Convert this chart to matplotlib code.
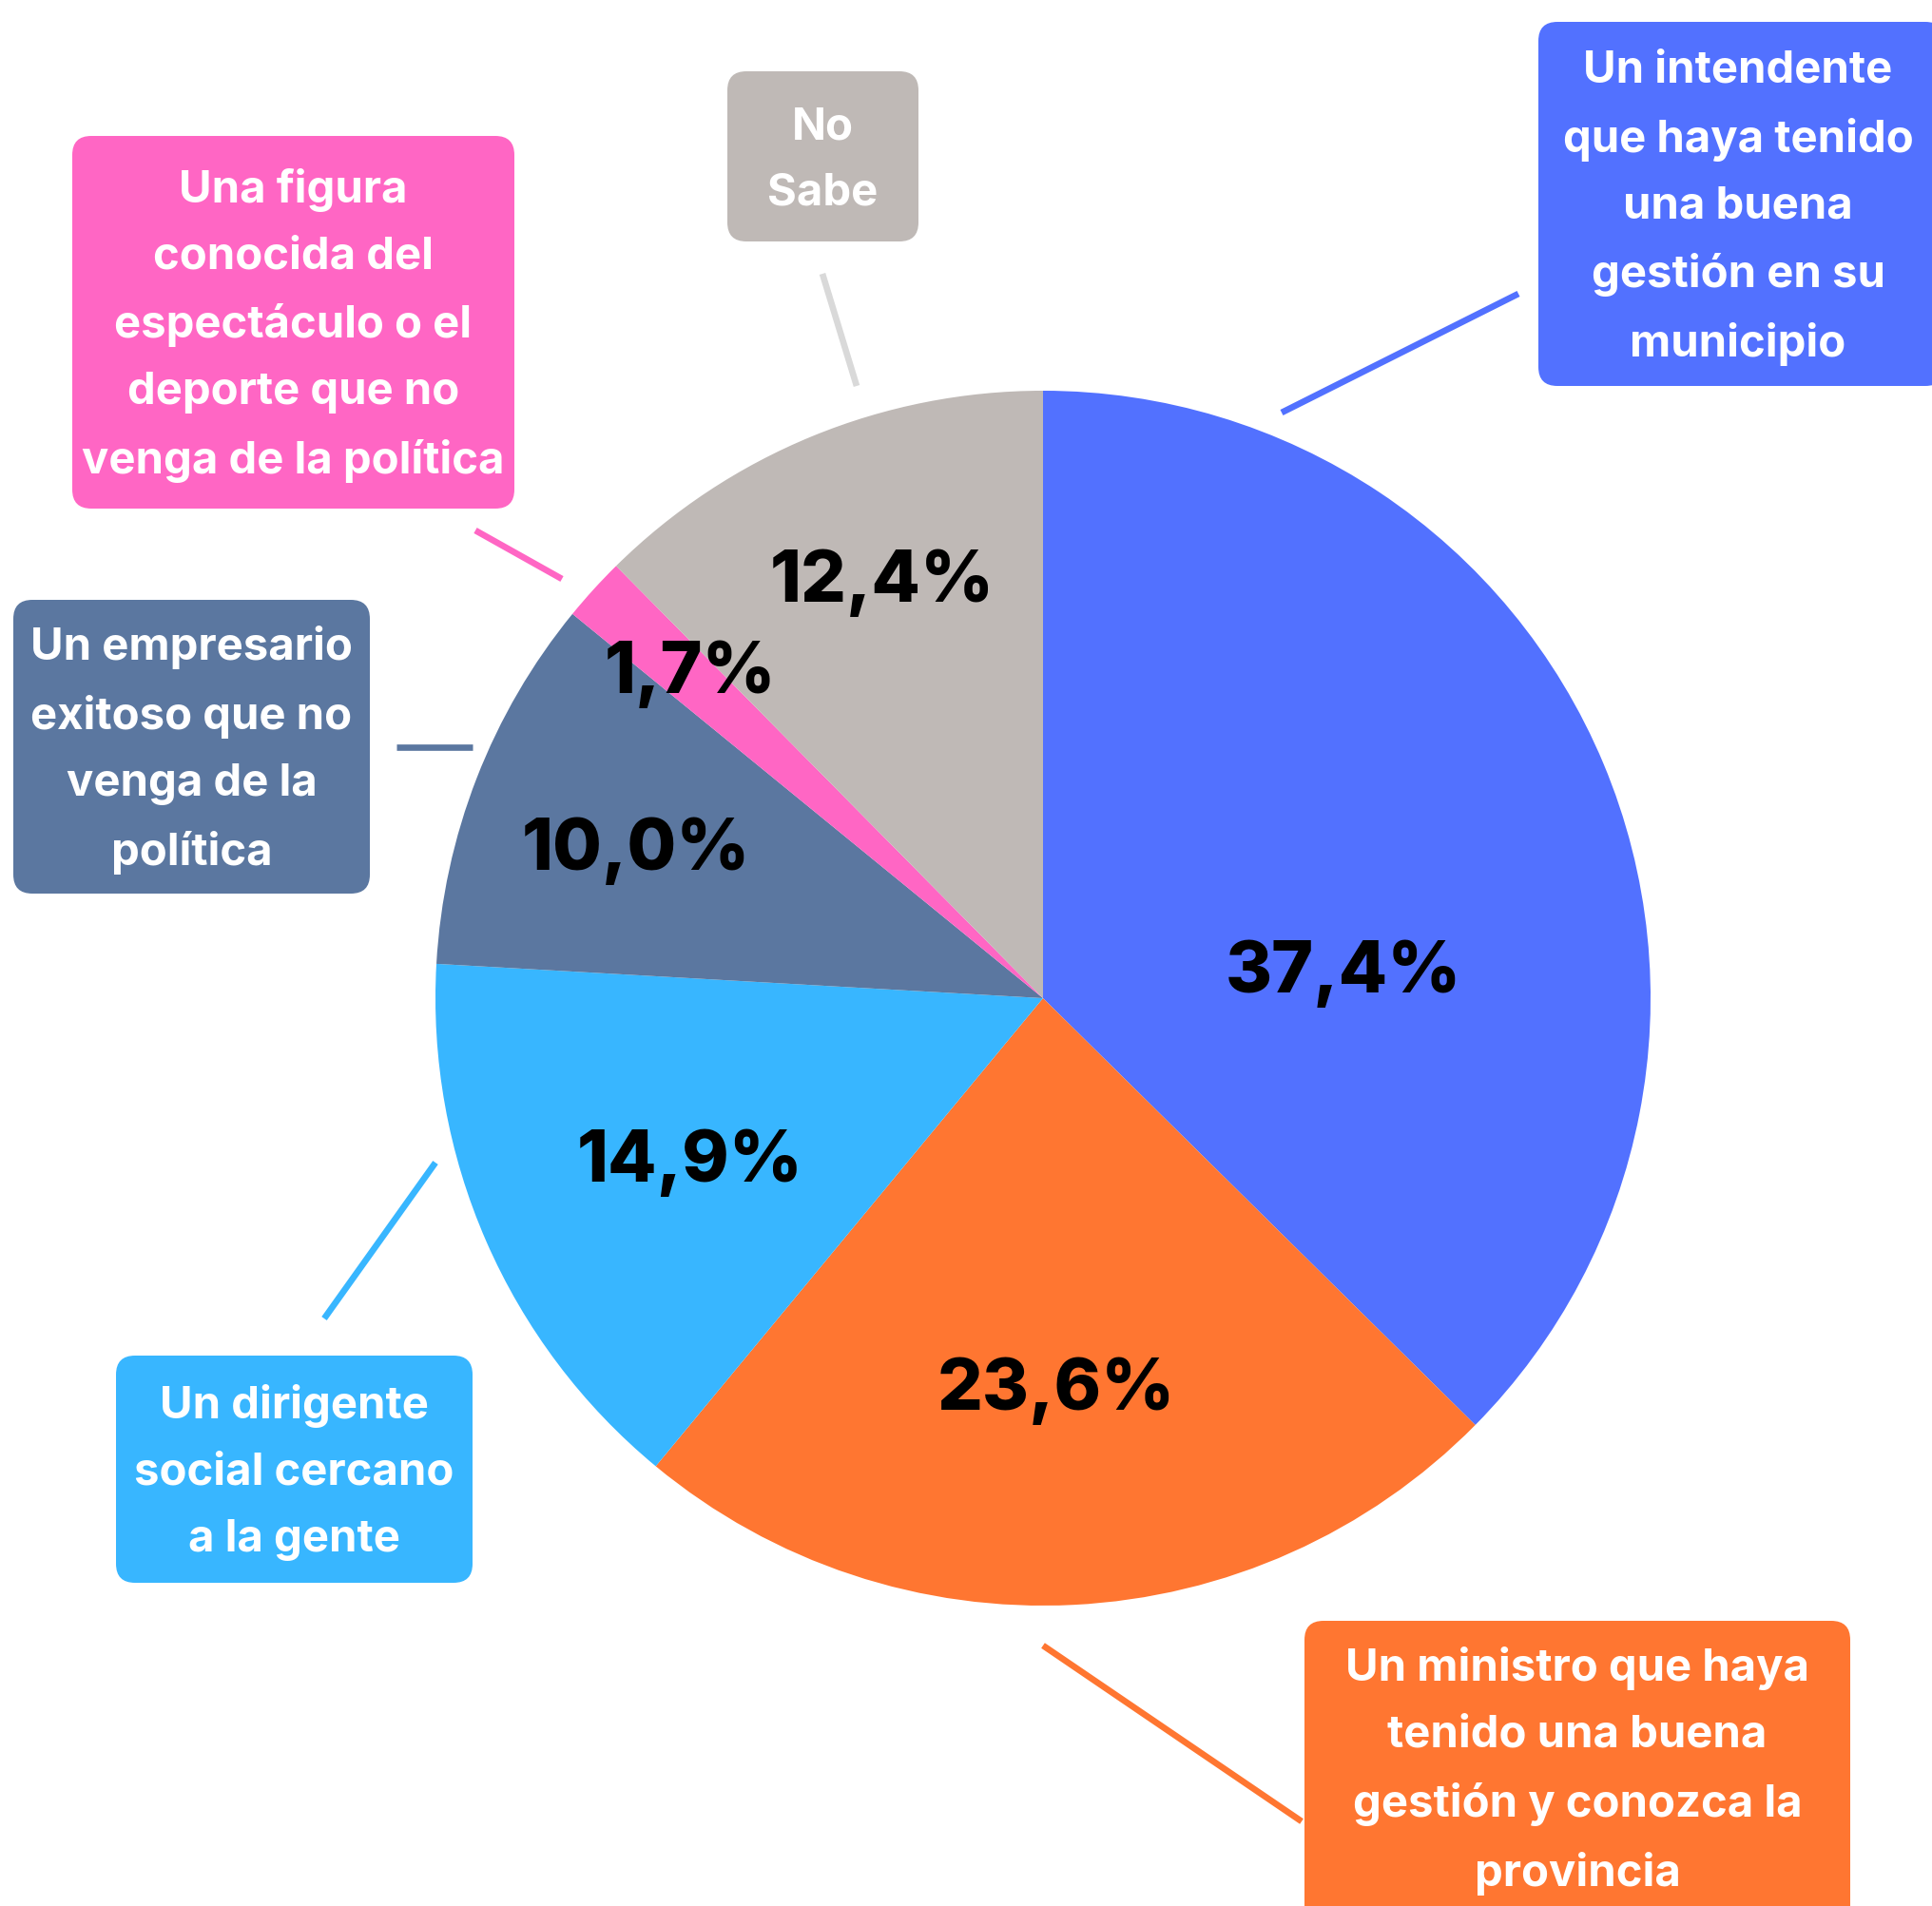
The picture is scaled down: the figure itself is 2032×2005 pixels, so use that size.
import matplotlib
matplotlib.use("Agg")
import matplotlib.pyplot as plt
from matplotlib.patches import FancyBboxPatch

plt.rcParams['font.family'] = ['Inter', 'DejaVu Sans']

# slices, clockwise from 12 o'clock
labels = [
    "Un intendente\nque haya tenido\nuna buena\ngestión en su\nmunicipio",
    "Un ministro que haya\ntenido una buena\ngestión y conozca la\nprovincia",
    "Un dirigente\nsocial cercano\na la gente",
    "Un empresario\nexitoso que no\nvenga de la\npolítica",
    "Una figura\nconocida del\nespectáculo o el\ndeporte que no\nvenga de la política",
    "No\nSabe",
]
values = [37.4, 23.6, 14.9, 10.0, 1.7, 12.4]
colors = ["#5271FF", "#FF7631", "#38B6FF", "#5B77A0", "#FF66C4", "#BFB9B6"]
line_colors = ["#5271FF", "#FF7631", "#38B6FF", "#5B77A0", "#FF66C4", "#D9D9D9"]

# layout (pixels, y from top)
W, H = 2033, 2005
center = (1097, 1050)
radius = 639
pct_pos = [(1413, 1024), (1111, 1463), (726, 1223), (669, 895), (726, 709), (928, 613)]
boxes = [  # x0, y0, x1, y1
    (1618, 23, 2045, 406),
    (1372, 1705, 1946, 2030),
    (122, 1426, 497, 1665),
    (14, 631, 389, 940),
    (76, 143, 541, 535),
    (765, 75, 966, 254),
]
text_y = [219, 1863, 1549, 789, 342, 169]
leaders = [
    ((1348, 434), (1597, 309)),
    ((1097, 1731), (1369, 1916)),
    ((458, 1223), (341, 1387)),
    ((417, 786), (497, 786)),
    ((591, 609), (500, 558)),
    ((901, 406), (865, 288)),
]

fig = plt.figure(figsize=(W / 100, H / 100), dpi=100)
ax = fig.add_axes([0, 0, 1, 1])

# y axis inverted -> clockwise on screen is counterclockwise in data
ax.pie(values, colors=colors, startangle=-90, counterclock=True,
       center=center, radius=radius, wedgeprops=dict(linewidth=0))

ax.set_xlim(0, W)
ax.set_ylim(H, 0)
ax.set_aspect('equal')
ax.axis('off')

for v, (x, y) in zip(values, pct_pos):
    ax.text(x, y, f"{v:.1f}%".replace(".", ","), ha='center', va='center',
            fontsize=54, fontweight=800, color='black')

for lab, (x0, y0, x1, y1), ty, c in zip(labels, boxes, text_y, colors):
    ax.add_patch(FancyBboxPatch((x0, y0), x1 - x0, y1 - y0,
                                boxstyle="round,pad=0,rounding_size=20",
                                facecolor=c, edgecolor='none', clip_on=False))
    ax.text((x0 + min(x1, W + 5)) / 2, ty, lab, ha='center', va='center',
            fontsize=34, fontweight='bold', color='white', linespacing=1.75)

for (p0, p1), c in zip(leaders, line_colors):
    ax.plot([p0[0], p1[0]], [p0[1], p1[1]], color=c, lw=4.8, solid_capstyle='butt')

fig.savefig("out.png", dpi=100)
